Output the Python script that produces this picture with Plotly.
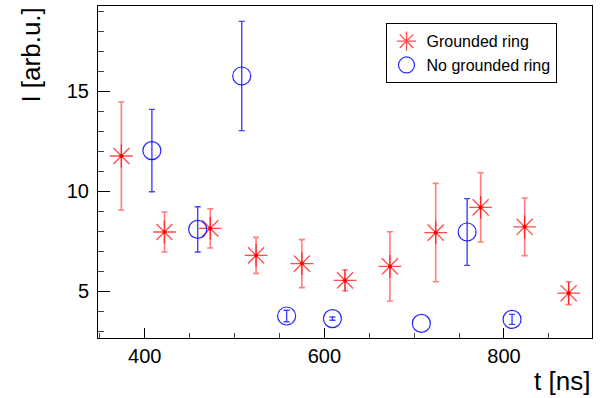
import plotly.graph_objects as go

# Measured intensity vs. time, with and without the grounded ring
t_grounded = [374, 422, 473, 524, 575, 623, 673, 724, 774, 823, 872]
i_grounded = [11.75, 7.95, 8.13, 6.78, 6.37, 5.53, 6.23, 7.92, 9.18, 8.21, 4.89]
e_grounded = [2.70, 1.00, 0.98, 0.90, 1.20, 0.52, 1.73, 2.46, 1.73, 1.44, 0.57]

t_free = [408, 459, 508, 558, 609, 708, 759, 809]
i_free = [12.02, 8.08, 15.75, 3.75, 3.62, 3.38, 7.95, 3.58]
e_free = [2.06, 1.13, 2.73, 0.29, 0.08, 0.0, 1.67, 0.25]

y_ticks = [5, 10, 15]
x_ticks = [400, 600, 800]

FONT = "Liberation Sans, Arial, Helvetica, sans-serif"

fig = go.Figure()

fig.add_trace(go.Scatter(
    x=t_grounded, y=i_grounded, mode="markers", name="Grounded ring",
    marker=dict(symbol="asterisk-open", size=19, color="rgba(255,0,0,0.7)",
                line=dict(color="rgba(255,0,0,0.7)", width=1.3)),
    error_y=dict(type="data", array=e_grounded, visible=True,
                 color="rgba(255,40,40,0.6)", thickness=1.6, width=3),
))
# solid centre dot of the star markers
fig.add_trace(go.Scatter(
    x=t_grounded, y=i_grounded, mode="markers", showlegend=False,
    hoverinfo="skip", marker=dict(symbol="circle", size=4, color="red"),
))

# error bars only where the uncertainty is non-zero
idx = [k for k, e in enumerate(e_free) if e > 0]
fig.add_trace(go.Scatter(
    x=[t_free[k] for k in idx], y=[i_free[k] for k in idx],
    mode="markers", showlegend=False, hoverinfo="skip",
    marker=dict(size=1, color="rgba(0,0,0,0)"),
    error_y=dict(type="data", array=[e_free[k] for k in idx], visible=True,
                 color="rgba(20,20,255,0.8)", thickness=1.4, width=3),
))
fig.add_trace(go.Scatter(
    x=t_free, y=i_free, mode="markers", name="No grounded ring",
    marker=dict(symbol="circle-open", size=18, color="rgba(0,0,255,0.85)",
                line=dict(color="rgba(0,0,255,0.85)", width=1.2)),
))

axis_common = dict(
    showline=True, linecolor="black", linewidth=1, mirror=True,
    showgrid=False, zeroline=False, ticks="inside", tickcolor="black",
    tickwidth=1, tickfont=dict(family=FONT, size=20, color="black"),
)

fig.update_xaxes(range=[348, 898], tickvals=x_ticks, ticklen=10,
                 minor=dict(dtick=50, tick0=0, ticks="inside", ticklen=5,
                            tickcolor="#444"),
                 **axis_common)
fig.update_yaxes(range=[2.65, 19.25], tickvals=y_ticks, ticklen=12,
                 ticklabelstandoff=4,
                 minor=dict(dtick=1, tick0=0, ticks="inside", ticklen=6,
                            tickcolor="#444"),
                 **axis_common)

fig.add_annotation(text="t [ns]", xref="paper", yref="paper", x=1.0,
                   y=-0.13, xanchor="right", yanchor="middle",
                   showarrow=False, font=dict(family=FONT, size=26, color="black"))
fig.add_annotation(text="I [arb.u.]", xref="paper", yref="paper", x=-0.1375,
                   y=1.0, xanchor="center", yanchor="top", textangle=-90,
                   showarrow=False, font=dict(family=FONT, size=26, color="black"))

fig.update_layout(
    width=603, height=398,
    margin=dict(l=98, r=11, t=6, b=60),
    paper_bgcolor="white", plot_bgcolor="white",
    font=dict(family=FONT, color="black"),
    legend=dict(x=0.582, y=0.948, xanchor="left", yanchor="top",
                bordercolor="black", borderwidth=1, bgcolor="white",
                font=dict(family=FONT, size=16, color="black"),
                itemwidth=30, tracegroupgap=0),
)

fig.write_html("out.html")
